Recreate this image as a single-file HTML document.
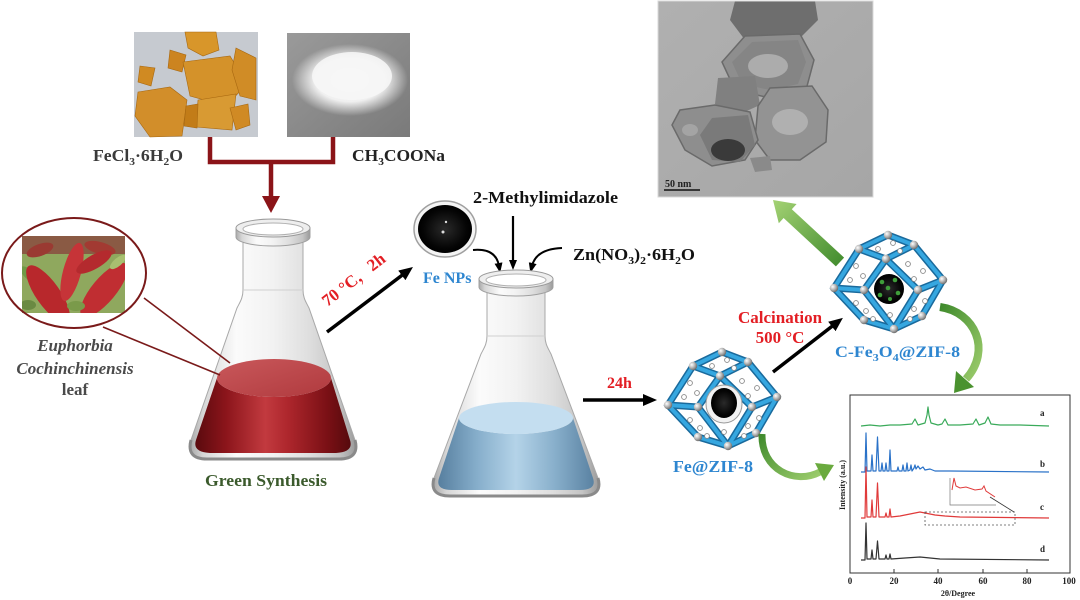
<!DOCTYPE html>
<html><head><meta charset="utf-8"><style>
html,body{margin:0;padding:0;background:#fff;}
svg{display:block;}
text{font-family:"Liberation Serif","Noto Serif CJK SC",serif;font-weight:bold;}
</style></head><body>
<svg width="1080" height="600" viewBox="0 0 1080 600" xmlns="http://www.w3.org/2000/svg">
<defs>
 <linearGradient id="glass" x1="0" y1="0" x2="1" y2="0">
  <stop offset="0" stop-color="#a8a8a8"/><stop offset="0.08" stop-color="#d6d6d6"/>
  <stop offset="0.28" stop-color="#fbfbfb"/><stop offset="0.5" stop-color="#f2f2f2"/>
  <stop offset="0.72" stop-color="#dedede"/><stop offset="0.9" stop-color="#c4c4c4"/>
  <stop offset="1" stop-color="#9a9a9a"/>
 </linearGradient>
 <linearGradient id="redl" x1="0" y1="0" x2="1" y2="0">
  <stop offset="0" stop-color="#5a0a0e"/><stop offset="0.2" stop-color="#8c151b"/>
  <stop offset="0.45" stop-color="#c23a3f"/><stop offset="0.6" stop-color="#ad262c"/>
  <stop offset="0.85" stop-color="#7a1015"/><stop offset="1" stop-color="#560a0d"/>
 </linearGradient>
 <linearGradient id="redtop" x1="0" y1="0" x2="1" y2="1">
  <stop offset="0" stop-color="#c9585b"/><stop offset="1" stop-color="#b03a3e"/>
 </linearGradient>
 <linearGradient id="bluel" x1="0" y1="0" x2="1" y2="0">
  <stop offset="0" stop-color="#577f9f"/><stop offset="0.25" stop-color="#86aecb"/>
  <stop offset="0.5" stop-color="#b4d3e8"/><stop offset="0.75" stop-color="#88afcb"/>
  <stop offset="1" stop-color="#5a82a2"/>
 </linearGradient>
 <linearGradient id="green" x1="0" y1="0" x2="1" y2="1">
  <stop offset="0" stop-color="#3f8a2c"/><stop offset="1" stop-color="#9ccc6c"/>
 </linearGradient>
 <linearGradient id="green2" x1="1" y1="1" x2="0" y2="0">
  <stop offset="0" stop-color="#3f8a2c"/><stop offset="1" stop-color="#a4d274"/>
 </linearGradient>
 <radialGradient id="sph" cx="0.35" cy="0.35" r="0.7">
  <stop offset="0" stop-color="#ffffff"/><stop offset="0.5" stop-color="#b8b8b8"/><stop offset="1" stop-color="#666"/>
 </radialGradient>
 <radialGradient id="blk" cx="0.5" cy="0.5" r="0.5">
  <stop offset="0" stop-color="#2a2a2a"/><stop offset="0.8" stop-color="#050505"/><stop offset="1" stop-color="#000"/>
 </radialGradient>
 <radialGradient id="salt" cx="0.5" cy="0.5" r="0.5">
  <stop offset="0" stop-color="#ffffff"/><stop offset="0.6" stop-color="#f0f0f0"/><stop offset="1" stop-color="#f0f0f0" stop-opacity="0"/>
 </radialGradient>
 <linearGradient id="grayb" x1="0" y1="0" x2="1" y2="1">
  <stop offset="0" stop-color="#9a9a9a"/><stop offset="1" stop-color="#7a7a7a"/>
 </linearGradient>
 <linearGradient id="tembg" x1="0" y1="0" x2="1" y2="1">
  <stop offset="0" stop-color="#b0b0b0"/><stop offset="1" stop-color="#a6a6a6"/>
 </linearGradient>
 <clipPath id="leafclip"><rect x="22" y="236" width="103" height="77"/></clipPath>
 <clipPath id="temclip"><rect x="658" y="1" width="215" height="196"/></clipPath>
 <marker id="ah" markerWidth="14" markerHeight="12" refX="4" refY="6" orient="auto" markerUnits="userSpaceOnUse">
  <path d="M0,0 L14,6 L0,12 z" fill="#000"/>
 </marker>
 <marker id="ahs" markerWidth="10" markerHeight="8" refX="3" refY="4" orient="auto" markerUnits="userSpaceOnUse">
  <path d="M0,0 L10,4 L0,8 z" fill="#000"/>
 </marker>
</defs>

<!-- FeCl3 photo -->
<rect x="134" y="32" width="124" height="105" fill="#c6cad0"/>
<g stroke="#a86810" stroke-width="0.6">
 <polygon points="185,32 216,32 219,50 203,56 188,48" fill="#d8962a"/>
 <polygon points="170,50 186,55 182,72 168,68" fill="#cc8420"/>
 <polygon points="140,66 155,68 151,86 138,82" fill="#d08a22"/>
 <polygon points="183,62 230,56 247,84 226,106 190,96" fill="#d4922a"/>
 <polygon points="236,48 256,58 256,100 240,96 232,70" fill="#d08c26"/>
 <polygon points="138,92 170,87 187,100 182,136 150,137 135,116" fill="#d28e2a"/>
 <polygon points="198,100 236,94 232,130 196,127" fill="#d89a33"/>
 <polygon points="230,108 248,104 250,125 236,130" fill="#d08a24"/>
 <polygon points="186,106 198,104 197,128 184,126" fill="#c27c18"/>
</g>
<!-- CH3COONa photo -->
<rect x="287" y="33" width="123" height="104" fill="url(#grayb)"/>
<ellipse cx="350" cy="80" rx="58" ry="36" fill="url(#salt)"/>
<ellipse cx="352" cy="76" rx="40" ry="24" fill="#f6f6f6" opacity="0.9"/>

<!-- labels -->
<text x="93" y="161" font-size="17" fill="#3a3a3a" textLength="90" lengthAdjust="spacingAndGlyphs">FeCl<tspan font-size="11" dy="4">3</tspan><tspan dy="-4">·6H</tspan><tspan font-size="11" dy="4">2</tspan><tspan dy="-4">O</tspan></text>
<text x="352" y="161" font-size="17" fill="#222" textLength="93" lengthAdjust="spacingAndGlyphs">CH<tspan font-size="11" dy="4">3</tspan><tspan dy="-4">COONa</tspan></text>

<!-- dark red connector -->
<path d="M210,137 L210,162 L333,162 L333,137" fill="none" stroke="#8b1418" stroke-width="4.5"/>
<line x1="271" y1="162" x2="271" y2="198" stroke="#8b1418" stroke-width="4.5"/>
<polygon points="262,196 280,196 271,213" fill="#8b1418"/>

<!-- Flask 1 -->
<path d="M243,238 L243,290 C243,298 240,302 237,308 L191,440 Q186,459 207,459 L339,459 Q360,459 355,440 L309,308 C306,302 303,298 303,290 L303,238 Z" fill="url(#glass)" stroke="#a8a8a8" stroke-width="1"/>
<path d="M217,378 L196,440 Q192,452 210,453 L336,453 Q354,452 350,440 L331,378 A57,19 0 0 1 217,378 Z" fill="url(#redl)"/>
<ellipse cx="274" cy="378" rx="57" ry="19" fill="url(#redtop)"/>
<path d="M191,440 Q186,459 207,459 L339,459 Q360,459 355,440" fill="none" stroke="#8a8a8a" stroke-width="3"/>
<path d="M236,228 L236,237 A37,9 0 0 0 310,237 L310,228 Z" fill="url(#glass)" stroke="#a0a0a0" stroke-width="1"/>
<ellipse cx="273" cy="228" rx="37" ry="9" fill="#eeeeee" stroke="#9a9a9a" stroke-width="1"/>
<ellipse cx="273" cy="229" rx="30" ry="6" fill="#ffffff" stroke="#b0b0b0" stroke-width="1"/>
<line x1="243" y1="290" x2="303" y2="290" stroke="#d0d0d0" stroke-width="1"/>

<!-- leaf circle -->
<g clip-path="url(#leafclip)">
 <rect x="22" y="236" width="103" height="77" fill="#8fa85e"/>
 <rect x="22" y="236" width="103" height="18" fill="#8a5a44"/>
 <ellipse cx="40" cy="250" rx="14" ry="6" transform="rotate(-20 40 250)" fill="#9a3a32"/>
 <ellipse cx="100" cy="248" rx="16" ry="6" transform="rotate(15 100 248)" fill="#a23a32"/>
 <ellipse cx="30" cy="275" rx="12" ry="5" transform="rotate(40 30 275)" fill="#6f9a46"/>
 <ellipse cx="48" cy="294" rx="34" ry="12" transform="rotate(55 48 294)" fill="#b8282c"/>
 <ellipse cx="72" cy="272" rx="30" ry="9" transform="rotate(-75 72 272)" fill="#c63438"/>
 <ellipse cx="104" cy="290" rx="34" ry="12" transform="rotate(-50 104 290)" fill="#c02e32"/>
 <ellipse cx="94" cy="262" rx="20" ry="7" transform="rotate(-30 94 262)" fill="#b42a2e"/>
 <ellipse cx="118" cy="262" rx="10" ry="4" transform="rotate(-40 118 262)" fill="#a8c070"/>
 <ellipse cx="76" cy="306" rx="9" ry="5" fill="#7a9a4a"/>
 <ellipse cx="28" cy="305" rx="8" ry="5" fill="#6a8a42"/>
</g>
<ellipse cx="74" cy="273" rx="72" ry="55" fill="none" stroke="#7a1a1a" stroke-width="2"/>
<line x1="103" y1="327" x2="220" y2="375" stroke="#7a1a1a" stroke-width="1.6"/>
<line x1="144" y1="298" x2="230" y2="363" stroke="#7a1a1a" stroke-width="1.6"/>
<text x="75" y="351" font-size="17" font-style="italic" fill="#4a4a4a" text-anchor="middle">Euphorbia</text>
<text x="75" y="374" font-size="17" font-style="italic" fill="#4a4a4a" text-anchor="middle">Cochinchinensis</text>
<text x="75" y="395" font-size="17" fill="#4a4a4a" text-anchor="middle">leaf</text>

<text x="266" y="486" font-size="16.5" fill="#3b5a2c" text-anchor="middle" textLength="122" lengthAdjust="spacingAndGlyphs">Green Synthesis</text>

<!-- 70C arrow -->
<line x1="327" y1="332" x2="405" y2="273" stroke="#000" stroke-width="3.5" marker-end="url(#ah)"/>
<text x="0" y="0" font-size="17" fill="#e31e24" text-anchor="middle" transform="translate(357,284) rotate(-38)">70 °C，2h</text>

<!-- Fe NPs -->
<ellipse cx="445" cy="229" rx="31" ry="28" fill="#f4f4f4" stroke="#a0a0a0" stroke-width="1.5"/>
<ellipse cx="445" cy="229" rx="27" ry="24" fill="url(#blk)"/>
<circle cx="446" cy="222" r="1.2" fill="#ddd"/>
<circle cx="443" cy="232" r="1.5" fill="#ddd"/>
<text x="423" y="283" font-size="16" fill="#2e86d0">Fe NPs</text>

<text x="473" y="203" font-size="17" fill="#111" textLength="145" lengthAdjust="spacingAndGlyphs">2-Methylimidazole</text>
<line x1="513" y1="216" x2="513" y2="263" stroke="#000" stroke-width="2.2" marker-end="url(#ahs)"/>
<path d="M473,250 Q496,248 499,266" fill="none" stroke="#000" stroke-width="2" marker-end="url(#ahs)"/>
<path d="M562,248 Q536,249 532,266" fill="none" stroke="#000" stroke-width="2" marker-end="url(#ahs)"/>
<text x="573" y="260" font-size="17" fill="#111" textLength="122" lengthAdjust="spacingAndGlyphs">Zn(NO<tspan font-size="11" dy="4">3</tspan><tspan dy="-4">)</tspan><tspan font-size="11" dy="4">2</tspan><tspan dy="-4">·6H</tspan><tspan font-size="11" dy="4">2</tspan><tspan dy="-4">O</tspan></text>

<!-- Flask 2 -->
<path d="M487,286 L487,336 C487,344 484,348 481,354 L434,478 Q429,496 450,496 L582,496 Q603,496 598,478 L551,354 C548,348 545,344 545,336 L545,286 Z" fill="url(#glass)" stroke="#a8a8a8" stroke-width="1"/>
<path d="M459,418 L439,478 Q435,490 452,490 L580,490 Q597,490 593,478 L573,418 A57,16 0 0 1 459,418 Z" fill="url(#bluel)"/>
<ellipse cx="516" cy="418" rx="57" ry="16" fill="#c4def0"/>
<path d="M434,478 Q429,496 450,496 L582,496 Q603,496 598,478" fill="none" stroke="#8a8a8a" stroke-width="3"/>
<path d="M479,279 L479,287 A37,9 0 0 0 553,287 L553,279 Z" fill="url(#glass)" stroke="#a0a0a0" stroke-width="1"/>
<ellipse cx="516" cy="279" rx="37" ry="9" fill="#eeeeee" stroke="#9a9a9a" stroke-width="1"/>
<ellipse cx="516" cy="280" rx="30" ry="6" fill="#ffffff" stroke="#b0b0b0" stroke-width="1"/>
<line x1="487" y1="336" x2="545" y2="336" stroke="#d0d0d0" stroke-width="1"/>

<!-- 24h -->
<line x1="583" y1="400" x2="647" y2="400" stroke="#000" stroke-width="3.5" marker-end="url(#ah)"/>
<text x="607" y="388" font-size="16" fill="#e31e24">24h</text>

<!-- Polyhedron Fe@ZIF-8 -->
<g id="poly1">
 <polygon points="722,352 748,362 777,397 756,433 728,446 698,437 668,405 693,366" fill="#fff"/>
 <g stroke="#1a6a9c" stroke-width="7" stroke-linecap="round" fill="none">
  <path d="M722,352 L693,366 L668,405 L698,437 L728,446 L756,433 L777,397 L748,362 Z"/>
  <path d="M693,366 L720,376 L748,362 M720,376 L698,407 L668,405 M698,407 L728,446 M720,376 L752,407 L777,397 M752,407 L728,446"/>
 </g>
 <g stroke="#36a7e0" stroke-width="4" stroke-linecap="round" fill="none">
  <path d="M722,352 L693,366 L668,405 L698,437 L728,446 L756,433 L777,397 L748,362 Z"/>
  <path d="M693,366 L720,376 L748,362 M720,376 L698,407 L668,405 M698,407 L728,446 M720,376 L752,407 L777,397 M752,407 L728,446"/>
 </g>
 <g fill="#fff" stroke="#888" stroke-width="0.9">
  <circle cx="712" cy="366" r="2.4"/><circle cx="727" cy="360" r="2.4"/><circle cx="734" cy="368" r="2.4"/>
  <circle cx="690" cy="383" r="2.4"/><circle cx="697" cy="393" r="2.4"/><circle cx="684" cy="397" r="2.4"/>
  <circle cx="742" cy="381" r="2.4"/><circle cx="757" cy="388" r="2.4"/><circle cx="748" cy="396" r="2.4"/>
  <circle cx="690" cy="420" r="2.4"/><circle cx="700" cy="428" r="2.4"/><circle cx="707" cy="436" r="2.4"/>
  <circle cx="748" cy="426" r="2.4"/><circle cx="759" cy="418" r="2.4"/><circle cx="744" cy="436" r="2.4"/>
  <circle cx="724" cy="432" r="2.4"/>
 </g>
 <g fill="url(#sph)">
  <circle cx="722" cy="352" r="4.2"/><circle cx="748" cy="362" r="4.2"/><circle cx="693" cy="366" r="4.2"/>
  <circle cx="720" cy="376" r="4.2"/><circle cx="668" cy="405" r="4.2"/><circle cx="777" cy="397" r="4.2"/>
  <circle cx="698" cy="407" r="4.2"/><circle cx="752" cy="407" r="4.2"/><circle cx="698" cy="437" r="4.2"/>
  <circle cx="728" cy="446" r="4.2"/><circle cx="756" cy="433" r="4.2"/>
 </g>
</g>
<ellipse cx="724" cy="404" rx="18" ry="19" fill="#f2f2f2" stroke="#9a9a9a" stroke-width="1"/>
<ellipse cx="724" cy="403" rx="13" ry="15" fill="url(#blk)"/>
<text x="673" y="472" font-size="17" fill="#2e86d0" textLength="80" lengthAdjust="spacingAndGlyphs">Fe@ZIF-8</text>

<!-- Calcination arrow -->
<line x1="773" y1="372" x2="835" y2="324" stroke="#000" stroke-width="3.5" marker-end="url(#ah)"/>
<text x="780" y="323" font-size="17" fill="#e31e24" text-anchor="middle">Calcination</text>
<text x="780" y="343" font-size="17" fill="#e31e24" text-anchor="middle">500 °C</text>

<!-- Polyhedron C-Fe3O4@ZIF-8 -->
<g transform="translate(166,-117)">
 <polygon points="722,352 748,362 777,397 756,433 728,446 698,437 668,405 693,366" fill="#fff"/>
 <g stroke="#1a6a9c" stroke-width="7" stroke-linecap="round" fill="none">
  <path d="M722,352 L693,366 L668,405 L698,437 L728,446 L756,433 L777,397 L748,362 Z"/>
  <path d="M693,366 L720,376 L748,362 M720,376 L698,407 L668,405 M698,407 L728,446 M720,376 L752,407 L777,397 M752,407 L728,446"/>
 </g>
 <g stroke="#36a7e0" stroke-width="4" stroke-linecap="round" fill="none">
  <path d="M722,352 L693,366 L668,405 L698,437 L728,446 L756,433 L777,397 L748,362 Z"/>
  <path d="M693,366 L720,376 L748,362 M720,376 L698,407 L668,405 M698,407 L728,446 M720,376 L752,407 L777,397 M752,407 L728,446"/>
 </g>
 <g fill="#fff" stroke="#888" stroke-width="0.9">
  <circle cx="712" cy="366" r="2.4"/><circle cx="727" cy="360" r="2.4"/><circle cx="734" cy="368" r="2.4"/>
  <circle cx="690" cy="383" r="2.4"/><circle cx="697" cy="393" r="2.4"/><circle cx="684" cy="397" r="2.4"/>
  <circle cx="742" cy="381" r="2.4"/><circle cx="757" cy="388" r="2.4"/><circle cx="748" cy="396" r="2.4"/>
  <circle cx="690" cy="420" r="2.4"/><circle cx="700" cy="428" r="2.4"/><circle cx="707" cy="436" r="2.4"/>
  <circle cx="748" cy="426" r="2.4"/><circle cx="759" cy="418" r="2.4"/><circle cx="744" cy="436" r="2.4"/>
  <circle cx="724" cy="432" r="2.4"/>
 </g>
 <g fill="url(#sph)">
  <circle cx="722" cy="352" r="4.2"/><circle cx="748" cy="362" r="4.2"/><circle cx="693" cy="366" r="4.2"/>
  <circle cx="720" cy="376" r="4.2"/><circle cx="668" cy="405" r="4.2"/><circle cx="777" cy="397" r="4.2"/>
  <circle cx="698" cy="407" r="4.2"/><circle cx="752" cy="407" r="4.2"/><circle cx="698" cy="437" r="4.2"/>
  <circle cx="728" cy="446" r="4.2"/><circle cx="756" cy="433" r="4.2"/>
 </g>
 <circle cx="723" cy="406" r="15" fill="url(#blk)"/>
 <g fill="#3f9e3a">
  <circle cx="716" cy="399" r="2.3"/><circle cx="729" cy="397" r="2.3"/><circle cx="722" cy="405" r="2.3"/>
  <circle cx="732" cy="410" r="2.3"/><circle cx="714" cy="412" r="2.3"/><circle cx="724" cy="416" r="2"/>
 </g>
</g>
<text x="835" y="357" font-size="16" fill="#2e86d0" textLength="125" lengthAdjust="spacingAndGlyphs">C-Fe<tspan font-size="11" dy="4">3</tspan><tspan dy="-4">O</tspan><tspan font-size="11" dy="4">4</tspan><tspan dy="-4">@ZIF-8</tspan></text>

<!-- TEM image -->
<g clip-path="url(#temclip)">
 <rect x="658" y="1" width="215" height="196" fill="url(#tembg)"/>
 <polygon points="735,1 815,1 818,20 800,38 745,40 730,20" fill="#6e6e6e"/>
 <polygon points="745,36 800,34 814,60 806,90 770,98 735,90 722,62" fill="#8e8e8e" stroke="#6a6a6a" stroke-width="1.5"/>
 <polygon points="752,42 798,40 806,62 798,84 770,90 742,84 732,62" fill="#858585"/>
 <ellipse cx="768" cy="66" rx="20" ry="12" fill="#acacac"/>
 <polygon points="718,78 755,76 760,105 740,114 715,104" fill="#808080"/>
 <polygon points="770,88 812,86 828,110 826,142 800,160 770,160 755,140 758,106" fill="#939393" stroke="#6a6a6a" stroke-width="1.5"/>
 <ellipse cx="790" cy="122" rx="18" ry="13" fill="#b0b0b0"/>
 <polygon points="680,110 715,105 750,112 758,140 745,160 712,166 685,150 672,125" fill="#8e8e8e" stroke="#6a6a6a" stroke-width="1.5"/>
 <polygon points="712,118 748,115 755,145 740,162 712,160 700,135" fill="#7a7a7a"/>
 <ellipse cx="728" cy="150" rx="17" ry="11" fill="#3a3a3a"/>
 <ellipse cx="690" cy="130" rx="8" ry="6" fill="#a4a4a4"/>
 <polygon points="750,158 770,156 772,170 755,172" fill="#8a8a8a"/>
 <text x="665" y="187" font-family="Liberation Sans, sans-serif" font-weight="normal" font-size="10" fill="#222">50  nm</text>
 <line x1="664" y1="190" x2="700" y2="190" stroke="#111" stroke-width="1.6"/>
</g>
<rect x="658" y="1" width="215" height="196" fill="none" stroke="#d8d8d8" stroke-width="1"/>

<!-- green arrow to TEM -->
<polygon points="844.1,257.6 791.8,209.2 796.6,204 773,200 778.8,223.2 783.6,218 835.9,266.4" fill="url(#green2)"/>

<!-- curved green arrows -->
<path d="M940,307 C975,312 992,350 966,379" fill="none" stroke="url(#green)" stroke-width="8"/>
<polygon points="974,387 956,371 954,393" fill="#4a922f"/>
<path d="M762,434 C761,470 795,485 820,472" fill="none" stroke="url(#green)" stroke-width="7"/>
<polygon points="824,481 815,463 834,465" fill="#6aaa3e"/>

<!-- XRD chart -->
<rect x="850" y="395" width="220" height="178" fill="#fff" stroke="#333" stroke-width="1"/>
<g stroke="#333" stroke-width="1">
 <line x1="894" y1="573" x2="894" y2="569"/><line x1="938" y1="573" x2="938" y2="569"/>
 <line x1="983" y1="573" x2="983" y2="569"/><line x1="1027" y1="573" x2="1027" y2="569"/>
</g>
<g font-size="9" fill="#222" text-anchor="middle">
 <text x="850" y="584">0</text><text x="894" y="584">20</text><text x="938" y="584">40</text>
 <text x="983" y="584">60</text><text x="1027" y="584">80</text><text x="1069" y="584">100</text>
</g>
<text x="958" y="596" font-size="8" fill="#222" text-anchor="middle">2θ/Degree</text>
<text x="0" y="0" font-size="8" fill="#222" text-anchor="middle" transform="translate(845,485) rotate(-90)">Intensity (a.u.)</text>
<g fill="none" stroke-width="1.2" stroke-linejoin="round">
 <path stroke="#3aaa5a" d="M861,426 L870,425 L880,426 L890,425 L900,425 L912,424 L915,419 L918,425 L925,423 L927,415 L928,407 L929,415 L931,423 L938,425 L942,424 L945,419 L948,425 L960,425 L973,424 L976,419 L979,425 L985,423 L988,417 L991,424 L1000,425 L1020,425 L1049,426"/>
 <path stroke="#2a72c8" d="M861,472 L865,472 L866,433 L867,471 L871,471 L872,455 L873,471 L876,471 L877.5,437 L879,471 L881,471 L882,463 L883,471 L885,471 L886,463 L887,471 L889,471 L890,450 L891,471 L897,471 L898,467 L899,471 L902,471 L903,465 L904,471 L906,471 L907,463 L908,471 L910,470 L911,465 L912,471 L914,468 L915,465 L916,469 L918,466 L920,469 L923,467 L925,470 L930,469 L935,471 L950,471 L1049,472"/>
 <path stroke="#e03a3a" d="M861,518 L865,518 L866,467 L867,517 L871,517 L872,500 L873,517 L876,517 L877.5,483 L879,517 L885,517 L886,513 L887,517 L889,517 L890,509 L891,517 L900,516 L905,515 L910,514 L915,513 L920,512 L925,513 L930,514 L935,515 L945,516 L960,517 L1049,518"/>
 <path stroke="#333" d="M861,560 L865,560 L866,523 L867,559 L871,559 L872,550 L873,559 L876,559 L877.5,541 L879,559 L885,559 L886,555 L887,559 L889,559 L890,554 L891,559 L905,558 L920,557 L930,558 L940,559 L1049,560"/>
</g>
<rect x="925" y="512" width="90" height="13" fill="none" stroke="#555" stroke-width="0.8" stroke-dasharray="2,2"/>
<path d="M950,478 L950,505 L996,505" fill="none" stroke="#777" stroke-width="0.7"/>
<path d="M952,490 L954,478 L956,486 L960,488 L966,487 L975,490 L982,489 L984,486 L986,491 L995,497" fill="none" stroke="#e03a3a" stroke-width="1"/>
<line x1="990" y1="497" x2="1014" y2="512" stroke="#333" stroke-width="0.8"/>
<g font-size="9" fill="#222">
 <text x="1040" y="416">a</text><text x="1040" y="467">b</text><text x="1040" y="510">c</text><text x="1040" y="552">d</text>
</g>
</svg>
</body></html>
